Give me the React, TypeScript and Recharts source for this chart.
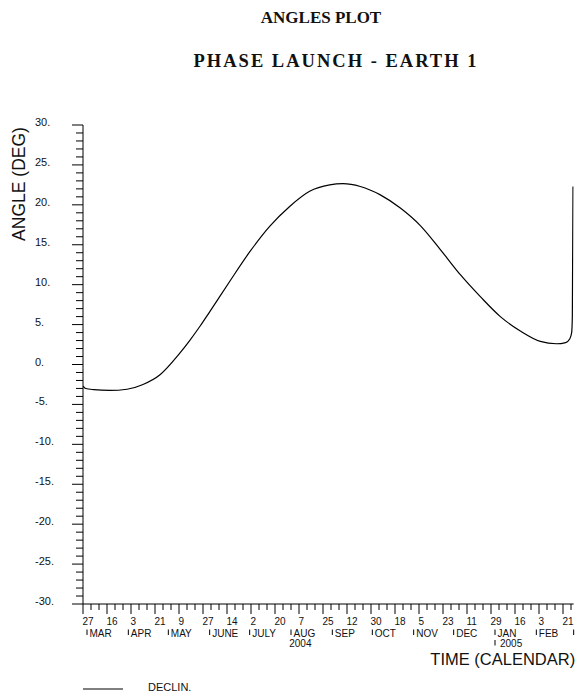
import { LineChart, Line, XAxis, YAxis, Legend, Label } from 'recharts';

// Day 0 = 27 Feb 2004
const days = [
  0, 2, 8, 20, 33, 45, 58, 72, 80, 88, 95, 110, 125, 140, 155, 170, 185, 195,
  208, 223, 238, 253, 268, 283, 298, 313, 328, 343, 355, 362, 365, 366.5, 367, 367.5,
];
const declin = [
  -2.7, -3.0, -3.15, -3.25, -3.1, -2.5, -1.25, 1.3, 3.0, 4.85, 6.6, 10.4, 14.1, 17.3, 19.8, 21.7, 22.5, 22.65,
  22.3, 21.25, 19.6, 17.4, 14.4, 11.25, 8.5, 6.0, 4.2, 2.9, 2.6, 2.75, 3.2, 4.0, 6.0, 22.3,
];

const dayLabels = [
  '27', '16', '3', '21', '9', '27', '14', '2', '20', '7', '25',
  '12', '30', '18', '5', '23', '11', '29', '16', '3', '21',
];
const monthStarts = [3, 34, 64, 95, 125, 156, 187, 217, 248, 278, 309, 340, 368];
const monthNames = ['MAR', 'APR', 'MAY', 'JUNE', 'JULY', 'AUG', 'SEP', 'OCT', 'NOV', 'DEC', 'JAN', 'FEB', ''];
const yearTicks = [163, 309];
const yearLabels = ['2004', '2005'];
const yLabelTicks = [-30, -25, -20, -15, -10, -5, 0, 5, 10, 15, 20, 25, 30];

const data = days.map((d, i) => ({ day: d, declin: declin[i] }));

// minor ticks: every 6 days on x, every degree on y
const dayTicks = Array.from({ length: 62 }, (_, i) => i * 6);
const xTicks = Array.from(new Set([...dayTicks, ...monthStarts, ...yearTicks])).sort((a, b) => a - b);
const yTicks = Array.from({ length: 61 }, (_, i) => i - 30);

const SANS = '"Liberation Sans", Arial, Helvetica, sans-serif';
const NARROW = '"Liberation Sans Narrow", "Liberation Sans", Arial, sans-serif';
const INK = '#111';

// one tick slot can carry a day tick, a month start and/or a year label
const TimeTick = ({ x, y, payload }: any) => {
  const v = payload.value;
  const isDay = v % 6 === 0 && v <= 366;
  const major = isDay && v % 18 === 0;
  const m = monthStarts.indexOf(v);
  const yr = yearTicks.indexOf(v);
  return (
    <g>
      {isDay && (
        <line x1={x} x2={x} y1={y} y2={y + (major ? 10 : 6)} stroke="#000" strokeWidth={1} />
      )}
      {major && (
        <text x={x - 0.5} y={y + 21} fontSize={10} fontFamily={NARROW} fill={INK}>
          {dayLabels[v / 18]}
        </text>
      )}
      {m >= 0 && (
        <g>
          <line x1={x} x2={x} y1={y + 25.5} y2={y + 31} stroke="#000" strokeWidth={1} />
          <text x={x + 2.5} y={y + 32.5} fontSize={10} fontFamily={NARROW} fill={INK}>
            {monthNames[m]}
          </text>
        </g>
      )}
      {yr === 0 && (
        <text x={x} y={y + 43} fontSize={10} fontFamily={NARROW} fill={INK} textAnchor="middle">
          {yearLabels[yr]}
        </text>
      )}
      {yr === 1 && (
        <g>
          <line x1={x} x2={x} y1={y + 36} y2={y + 41.5} stroke="#000" strokeWidth={1} />
          <text x={x + 5} y={y + 43} fontSize={10} fontFamily={NARROW} fill={INK}>
            {yearLabels[yr]}
          </text>
        </g>
      )}
    </g>
  );
};

const AngleTick = ({ x, y, payload }: any) => {
  const v = payload.value;
  const major = yLabelTicks.includes(v);
  return (
    <g>
      <line x1={x - (major ? 11 : 7)} x2={x} y1={y} y2={y} stroke="#000" strokeWidth={1} />
      {major && (
        <text x={x - 48} y={y + 1} fontSize={11} fontFamily={SANS} fill={INK}>
          {`${v}.`}
        </text>
      )}
    </g>
  );
};

const LegendBox = () => (
  <svg width={200} height={20} style={{ display: 'block' }}>
    <line x1={83} x2={123} y1={11} y2={11} stroke="#000" strokeWidth={1} />
    <text x={148} y={13} fontSize={11} fontFamily={SANS} fill={INK}>
      DECLIN.
    </text>
  </svg>
);

export default function App() {
  return (
    <div style={{ position: 'absolute', left: 0, top: 0, width: 576, height: 700, background: '#fff' }}>
      <div
        style={{
          position: 'absolute', left: 0, top: 6, width: 576,
          fontFamily: '"Liberation Serif", "Times New Roman", serif', fontWeight: 'bold', color: INK,
        }}
      >
        <div style={{ width: 642, textAlign: 'center', lineHeight: '24px', fontSize: 17 }}>ANGLES PLOT</div>
        <div style={{ width: 672, textAlign: 'center', lineHeight: '24px', marginTop: 19, fontSize: 18.5, letterSpacing: 2 }}>
          PHASE LAUNCH - EARTH 1
        </div>
      </div>
      <LineChart width={576} height={700} data={data} margin={{ top: 125, right: 2.33, left: 0, bottom: 2 }}>
        <YAxis
          type="number"
          domain={[-30, 30]}
          ticks={yTicks}
          interval={0}
          width={83}
          tickSize={0}
          tickMargin={0}
          tickLine={false}
          tick={<AngleTick />}
          axisLine={{ stroke: '#000' }}
        >
          <Label
            content={({ viewBox }: any) => {
              const cx = viewBox.x + 18.5;
              const cy = viewBox.y + 59;
              return (
                <text
                  x={cx}
                  y={cy}
                  transform={`rotate(-90 ${cx} ${cy})`}
                  textAnchor="middle"
                  dominantBaseline="central"
                  fontSize={17.5}
                  fontFamily={SANS}
                  fill={INK}
                >
                  ANGLE (DEG)
                </text>
              );
            }}
          />
        </YAxis>
        <XAxis
          dataKey="day"
          type="number"
          domain={[0, 368]}
          allowDataOverflow
          ticks={xTicks}
          interval={0}
          height={74}
          tickSize={0}
          tickMargin={0}
          tickLine={false}
          tick={<TimeTick />}
          axisLine={{ stroke: '#000' }}
        >
          <Label
            content={({ viewBox }: any) => (
              <text
                x={viewBox.x + viewBox.width + 1.5}
                y={viewBox.y + 60.5}
                textAnchor="end"
                fontSize={16.5}
                fontFamily={SANS}
                fill={INK}
              >
                TIME (CALENDAR)
              </text>
            )}
          />
        </XAxis>
        <Legend verticalAlign="bottom" height={20} content={<LegendBox />} wrapperStyle={{ left: 0, width: 576 }} />
        <Line
          type="monotone"
          dataKey="declin"
          stroke="#000"
          strokeWidth={1.2}
          dot={false}
          isAnimationActive={false}
        />
      </LineChart>
    </div>
  );
}
